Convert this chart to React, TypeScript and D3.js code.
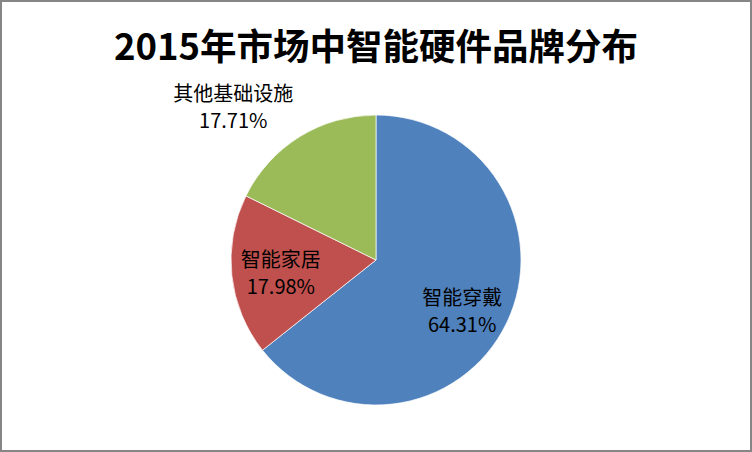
import * as d3 from "d3";

const WIDTH = 752;
const HEIGHT = 452;

const TITLE = "2015年市场中智能硬件品牌分布";
const categories = ["智能穿戴", "智能家居", "其他基础设施"];
const shares = [64.31, 17.98, 17.71];
const colors = ["#4F81BD", "#C0504D", "#9BBB59"];

type Slice = { name: string; value: number; color: string };

const FONT = "'Noto Sans CJK SC', 'Noto Sans', sans-serif";

export default function App() {
  const data: Slice[] = categories.map((name, i) => ({
    name,
    value: shares[i],
    color: colors[i],
  }));

  const cx = 376;
  const cy = 260;
  const radius = 145;

  // slices run clockwise from 12 o'clock, in data order
  const pie = d3.pie<Slice>().sort(null).value((d) => d.value);
  const arcs = pie(data);

  const arcGen = d3.arc<d3.PieArcDatum<Slice>>().innerRadius(0).outerRadius(radius);
  const labelArc = d3
    .arc<d3.PieArcDatum<Slice>>()
    .innerRadius(radius * 0.66)
    .outerRadius(radius * 0.66);
  const outerArc = d3
    .arc<d3.PieArcDatum<Slice>>()
    .innerRadius(radius * 1.25)
    .outerRadius(radius * 1.25);

  // small slices that don't fit get pushed outside (like Excel's best fit)
  const labelPos = (a: d3.PieArcDatum<Slice>, i: number) => {
    if (i === 2) {
      const [x, y] = outerArc.centroid(a);
      return [x - 47, y + 1];
    }
    const [x, y] = labelArc.centroid(a);
    return i === 0 ? [x, y + 9] : [x, y + 3];
  };

  return (
    <svg
      width={WIDTH}
      height={HEIGHT}
      style={{ position: "absolute", left: 0, top: 0, background: "#fff" }}
    >
      <rect x={1} y={1} width={WIDTH - 2} height={HEIGHT - 2} fill="#fff" stroke="#868686" strokeWidth={2} />
      <text
        x={WIDTH / 2}
        y={44}
        textAnchor="middle"
        dominantBaseline="central"
        fontFamily={FONT}
        fontWeight="bold"
        fontSize={36.5}
        fill="#000"
      >
        {TITLE}
      </text>
      <g transform={`translate(${cx},${cy})`}>
        {arcs.map((a, i) => (
          <path key={i} d={arcGen(a) || ""} fill={a.data.color} stroke="#fff" strokeWidth={0.7} />
        ))}
        {arcs.map((a, i) => {
          const [x, y] = labelPos(a, i);
          return (
            <text
              key={"l" + i}
              x={x}
              y={y}
              textAnchor="middle"
              fontFamily={FONT}
              fontSize={20}
              fill="#000"
            >
              <tspan x={x} dy="-0.3em">
                {a.data.name}
              </tspan>
              <tspan x={x} dy="1.35em">
                {a.data.value.toFixed(2) + "%"}
              </tspan>
            </text>
          );
        })}
      </g>
    </svg>
  );
}
